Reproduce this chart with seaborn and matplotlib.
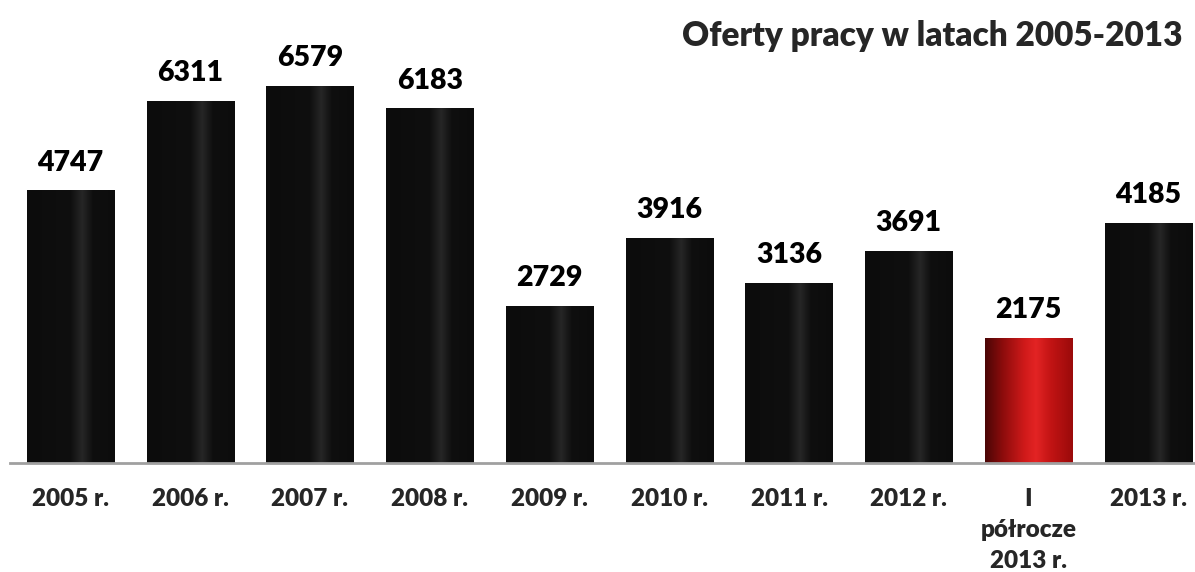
import numpy as np
import pandas as pd
import seaborn as sns
import matplotlib.pyplot as plt
from matplotlib.colors import LinearSegmentedColormap

# ------------------------------
# Data
# ------------------------------
labels = ["2005 r.", "2006 r.", "2007 r.", "2008 r.", "2009 r.",
          "2010 r.", "2011 r.", "2012 r.", "I\npółrocze\n2013 r.", "2013 r."]
values = [4747, 6311, 6579, 6183, 2729, 3916, 3136, 3691, 2175, 4185]
is_half_year = [False] * 8 + [True, False]

df = pd.DataFrame({"okres": labels, "oferty": values})

# ------------------------------
# Style
# ------------------------------
sns.set_style("white")
plt.rcParams['font.family'] = ['Lato', 'DejaVu Sans']

black_cmap = LinearSegmentedColormap.from_list(
    "bar_black", [(0, "#0c0c0c"), (0.5, "#0f0f0f"), (0.63, "#262626"),
                  (0.75, "#0f0f0f"), (1, "#0c0c0c")])
red_cmap = LinearSegmentedColormap.from_list(
    "bar_red", [(0, "#4a0606"), (0.2, "#8c0c0c"), (0.45, "#d01a1a"),
                (0.58, "#e32424"), (0.75, "#c21414"), (1, "#9a0a0a")])

fig = plt.figure(figsize=(11.95, 5.72), dpi=100)
ax = fig.add_axes([10 / 1195, 109 / 572, 1 - 10 / 1195, 1 - 109 / 572])

sns.barplot(data=df, x="okres", y="oferty", color="#111111", width=0.727, ax=ax)

# gradient fill for each bar
grad = np.linspace(0, 1, 256).reshape(1, -1)
for patch, half in zip(ax.patches, is_half_year):
    x0 = patch.get_x()
    w = patch.get_width()
    h = patch.get_height()
    ax.imshow(grad, cmap=red_cmap if half else black_cmap, aspect="auto",
              extent=[x0, x0 + w, 0, h], zorder=2)
    patch.set_visible(False)
    ax.text(x0 + w / 2, h + 265, f"{int(h)}", ha="center", va="bottom",
            fontsize=20.5, fontweight="heavy", color="black", zorder=3)

ax.set_xlim(-0.505, 9.39)
ax.set_ylim(0, 8080)
ax.set_yticks([])
ax.set_xlabel("")
ax.set_ylabel("")
ax.tick_params(axis="x", length=0, pad=18)
for lbl in ax.get_xticklabels():
    lbl.set_fontsize(17.5)
    lbl.set_fontweight("heavy")
    lbl.set_verticalalignment("top")
    lbl.set_linespacing(1.5)

for side in ["top", "left", "right"]:
    ax.spines[side].set_visible(False)
ax.spines["bottom"].set_color("#a0a0a0")
ax.spines["bottom"].set_linewidth(2)

fig.text(1183 / 1195, 1 - 36 / 572, "Oferty pracy w latach 2005-2013",
         ha="right", va="center", fontsize=24, fontweight="heavy")

plt.savefig("out.png", dpi=100)
